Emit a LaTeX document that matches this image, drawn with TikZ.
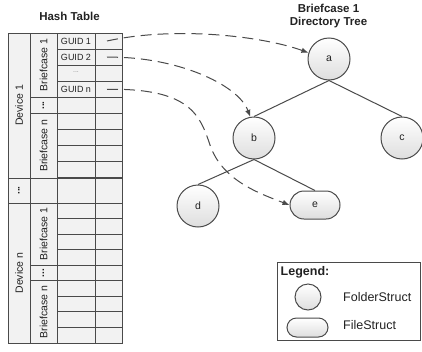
\documentclass[tikz,border=0pt]{standalone}
\usepackage{fontspec}
\setmainfont{Liberation Sans}
\usetikzlibrary{arrows.meta,shapes.misc}

\definecolor{edge}{HTML}{4A4A4A}
\definecolor{cellfill}{HTML}{F2F2F2}
\definecolor{txt}{HTML}{222222}

\tikzset{
  cell/.style={draw=edge, fill=cellfill, line width=0.9pt},
  vlabel/.style={font=\fontsize{10.5}{12}\selectfont, text=txt, rotate=90, inner sep=0pt},
  vdots/.style={font=\fontsize{10}{12}\selectfont\bfseries, text=txt, rotate=90, inner sep=0pt},
  guid/.style={font=\fontsize{9}{10}\selectfont, text=txt, inner sep=0pt},
  title/.style={font=\fontsize{11.5}{13.5}\selectfont\bfseries, text=txt, align=center},
  folder/.style={circle, draw=edge, line width=1pt, top color=white, bottom color=black!13,
    minimum size=42pt, inner sep=0pt, font=\fontsize{10.5}{12}\selectfont, text=txt},
  filebox/.style={rounded rectangle, draw=edge, line width=1pt, top color=white, bottom color=black!13,
    minimum width=50pt, minimum height=28pt, inner sep=0pt, font=\fontsize{10.5}{12}\selectfont, text=txt},
  link/.style={draw=edge, line width=1pt, dash pattern=on 11pt off 6pt,
    -{Latex[length=7pt,width=5.5pt]}},
  treeedge/.style={draw=edge, line width=1pt},
  legendtext/.style={font=\fontsize{12.5}{14}\selectfont, text=txt, anchor=west, inner sep=0pt},
}

\begin{document}
\begin{tikzpicture}[x=1pt,y=-1pt]
\useasboundingbox (0,0) rectangle (422,351);

% ---------- titles ----------
\node[title] (httitle) at (69.5,16) {Hash Table};
\node[title] (treetitle) at (328.5,16) {Briefcase 1\\Directory Tree};

% ---------- Device 1 block ----------
\def\ha{16.1}
\draw[cell] (8,33) rectangle (30,178);
\draw[cell] (30,33) rectangle (57,97.4);
\draw[cell] (30,97.4) rectangle (57,113.5);
\draw[cell] (30,113.5) rectangle (57,178);
\foreach \k in {0,...,8}{
  \draw[cell] (57,{33+\ha*\k}) rectangle (95,{33+\ha*(\k+1)});
  \draw[cell] (95,{33+\ha*\k}) rectangle (122,{33+\ha*(\k+1)});
}
\node[vlabel] (dev1) at (19,105.5) {Device 1};
\node[vlabel] (bc11) at (43.5,65.2) {Briefcase 1};
\node[vdots] (bcdots1) at (43.5,105.5) {...};
\node[vlabel] (bc1n) at (43.5,145.7) {Briefcase n};
\node[guid] (g1) at (76,41) {GUID 1};
\node[guid] (g2) at (76,57.2) {GUID 2};
\node[guid, text=black!45, font=\fontsize{7}{8}\selectfont] (gdots) at (76,72.5) {...};
\node[guid] (gn) at (76,89.3) {GUID n};
\coordinate (p1) at (107,41);
\coordinate (p2) at (107,57.2);
\coordinate (pn) at (107,89.3);

% ---------- gap row ----------
\draw[cell] (8,178) rectangle (30,203);
\draw[cell] (30,178) rectangle (57,203);
\draw[cell] (57,178) rectangle (95,203);
\draw[cell] (95,178) rectangle (122,203);
\node[vdots] (devdots) at (19,190.5) {...};

% ---------- Device n block ----------
\def\hb{15.5556}
\draw[cell] (8,203) rectangle (30,343);
\draw[cell] (30,203) rectangle (57,265.2);
\draw[cell] (30,265.2) rectangle (57,280.8);
\draw[cell] (30,280.8) rectangle (57,343);
\foreach \k in {0,...,8}{
  \draw[cell] (57,{203+\hb*\k}) rectangle (95,{203+\hb*(\k+1)});
  \draw[cell] (95,{203+\hb*\k}) rectangle (122,{203+\hb*(\k+1)});
}
\node[vlabel] (devn) at (19,273) {Device n};
\node[vlabel] (bcn1) at (43.5,234.1) {Briefcase 1};
\node[vdots] (bcdotsn) at (43.5,273) {...};
\node[vlabel] (bcnn) at (43.5,311.9) {Briefcase n};

% ---------- directory tree ----------
\node[folder] (a) at (329,59) {a};
\node[folder] (b) at (254,138) {b};
\node[folder] (c) at (402,138) {c};
\node[folder] (d) at (198,206) {d};
\node[filebox] (e) at (315,205) {e};

\draw[treeedge] (a.south) -- (b.north);
\draw[treeedge] (a.south) -- (c.north);
\draw[treeedge] (b.south) -- (d.north);
\draw[treeedge] (b.south) -- (e.north);

% ---------- links from table entries ----------
\draw[link] (p1) .. controls (175,26) and (262,36) .. (a.163);
\draw[link] (p2) .. controls (175,56) and (238,84) .. (b.100);
\draw[link] (pn) .. controls (190,88) and (200,115) .. (210,145)
                 .. controls (222,180) and (258,193) .. (e.west);

% ---------- legend ----------
\node[draw=edge, line width=1.1pt, fill=white, minimum width=143pt, minimum height=78pt,
      anchor=north west, inner sep=0pt] (legend) at (277,262) {};
\node[font=\fontsize{12.5}{14}\selectfont\bfseries, text=txt, anchor=west, inner sep=0pt]
  (legtitle) at (280.5,272) {Legend:};
\node[folder, minimum size=26pt] (legfolder) at (308,297) {};
\node[filebox, minimum width=41pt, minimum height=19pt] (legfile) at (307.5,327.5) {};
\node[legendtext] (legfoldertext) at (343,297) {FolderStruct};
\node[legendtext] (legfiletext) at (343,325) {FileStruct};
\end{tikzpicture}
\end{document}
